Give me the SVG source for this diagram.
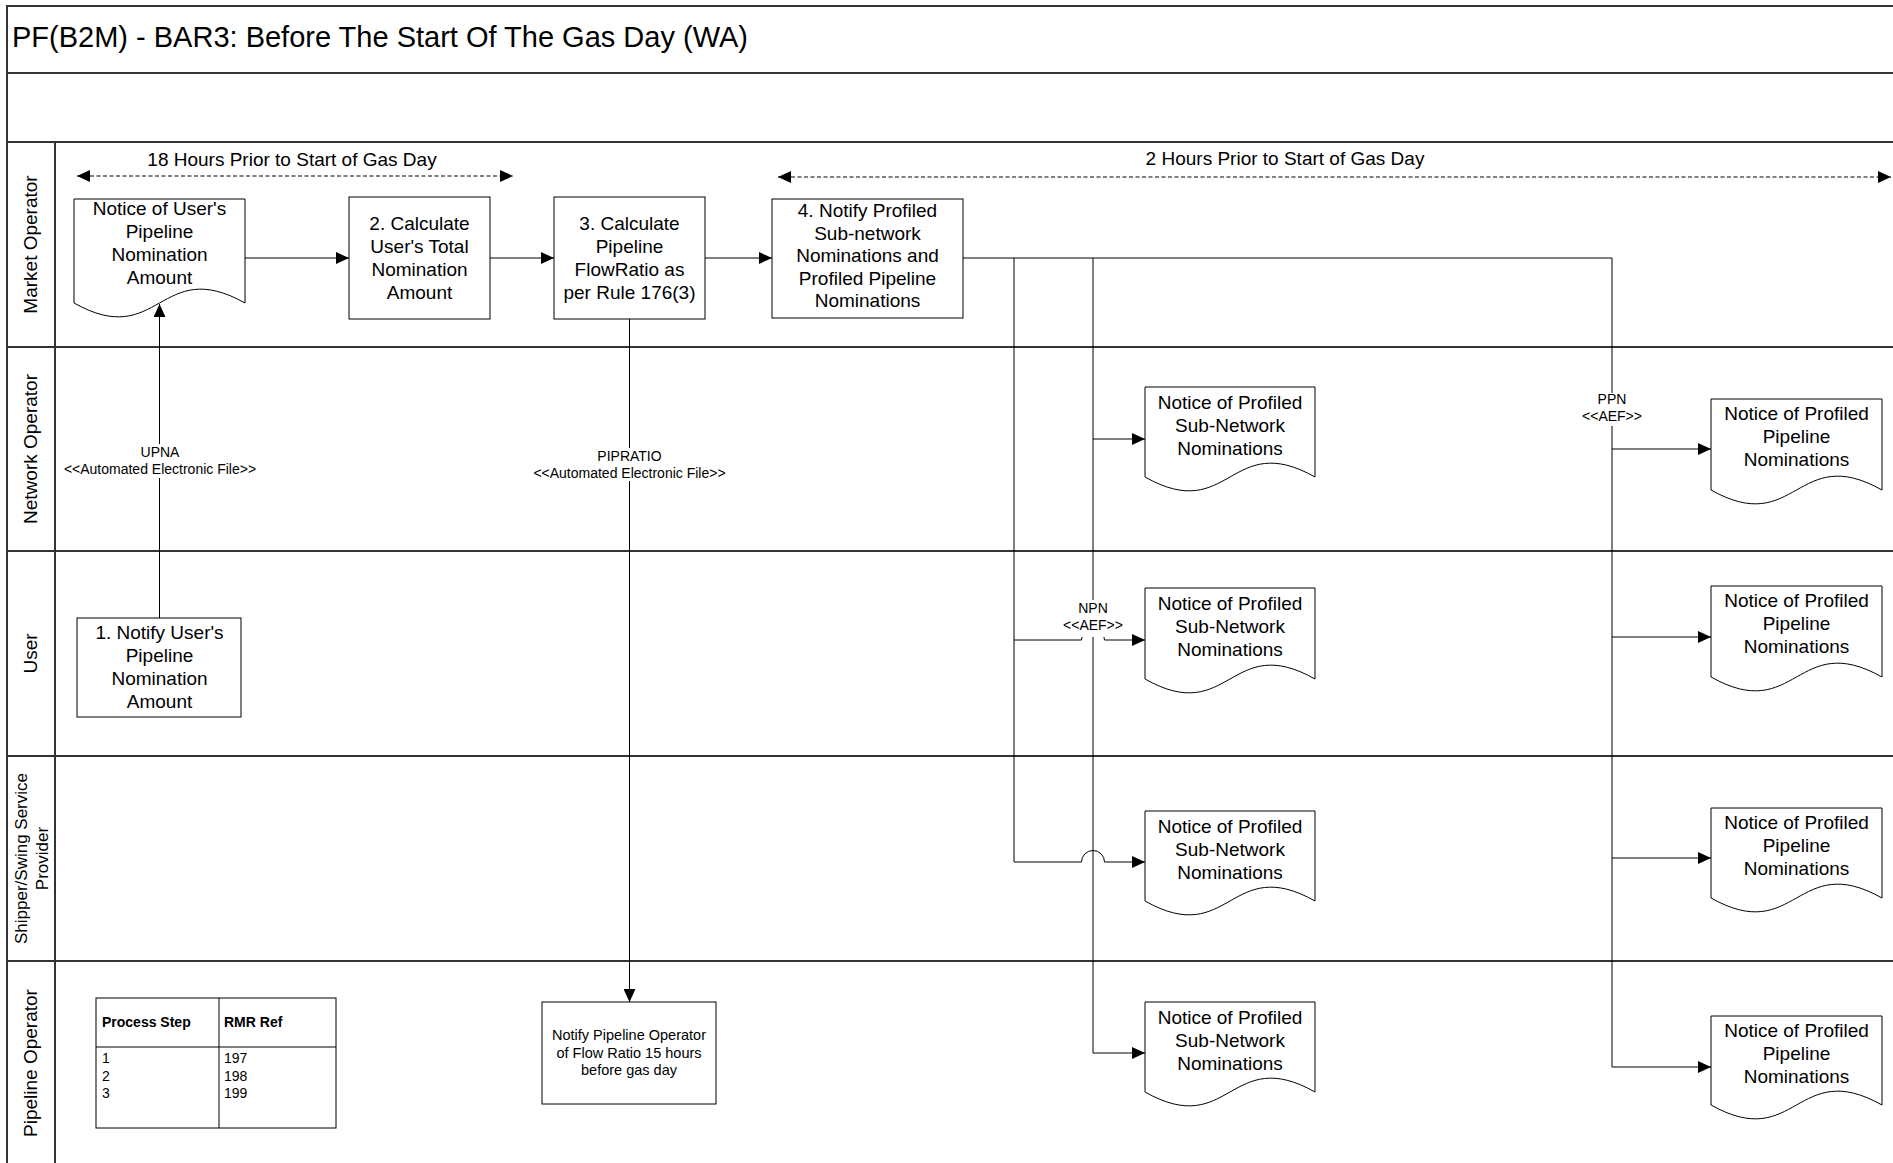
<svg xmlns="http://www.w3.org/2000/svg" width="1893" height="1163" viewBox="0 0 1893 1163">
<defs>
<style>
text{font-family:"Liberation Sans",Arial,sans-serif;fill:#000}
.t19{font-size:19px;text-anchor:middle}
.t14{font-size:14px;text-anchor:middle}
.lane{stroke:#333;stroke-width:2;fill:none}
.shape{fill:#fff;stroke:#000;stroke-width:1}
.conn{fill:none;stroke:#000;stroke-width:1}
.dash{fill:none;stroke:#000;stroke-width:1;stroke-dasharray:4 2.5}
.lbl{fill:#fff;stroke:none}
.tb{font-size:14px}
</style>
<marker id="arr" markerUnits="userSpaceOnUse" markerWidth="13" markerHeight="12" refX="13" refY="6" orient="auto-start-reverse">
<path d="M0,0 L13,6 L0,12 Z" fill="#000"/>
</marker>
</defs>
<rect width="1893" height="1163" fill="#fff"/>

<g id="frame">
<path class="lane" d="M7,1163 V6 H1893"/>
<path class="lane" d="M7,73 H1893 M7,142 H1893 M7,347 H1893 M7,551 H1893 M7,756 H1893 M7,961 H1893 M55,142 V1163"/>
<text x="12" y="47" style="font-size:29px">PF(B2M) - BAR3: Before The Start Of The Gas Day (WA)</text>
</g>

<g id="lanes">
<text class="t19" transform="translate(31,244.5) rotate(-90)" y="6">Market Operator</text>
<text class="t19" transform="translate(31,449) rotate(-90)" y="6">Network Operator</text>
<text class="t19" transform="translate(31,653.5) rotate(-90)" y="6">User</text>
<text class="t19" style="font-size:17px" transform="translate(31,858.5) rotate(-90)"><tspan x="0" y="-4">Shipper/Swing Service</tspan><tspan x="0" y="17">Provider</tspan></text>
<text class="t19" transform="translate(31,1063) rotate(-90)" y="6">Pipeline Operator</text>
</g>

<g id="timeline-18h">
<path class="dash" d="M77,176 H513" marker-start="url(#arr)" marker-end="url(#arr)"/>
<text class="t19" x="292" y="166">18 Hours Prior to Start of Gas Day</text>
</g>
<g id="timeline-2h">
<path class="dash" d="M778,177 H1891" marker-start="url(#arr)" marker-end="url(#arr)"/>
<text class="t19" x="1285" y="165">2 Hours Prior to Start of Gas Day</text>
</g>

<g id="connectors">
<path class="conn" d="M245,258 H349" marker-end="url(#arr)"/>
<path class="conn" d="M490,258 H554" marker-end="url(#arr)"/>
<path class="conn" d="M705,258 H772" marker-end="url(#arr)"/>
<path class="conn" d="M159.5,618 V304" marker-end="url(#arr)"/>
<path class="conn" d="M629.5,319 V1002" marker-end="url(#arr)"/>
<path class="conn" d="M963,258 H1612"/>
<path class="conn" d="M1612,258 V1067 H1711" marker-end="url(#arr)"/>
<path class="conn" d="M1612,449 H1711" marker-end="url(#arr)"/>
<path class="conn" d="M1612,637 H1711" marker-end="url(#arr)"/>
<path class="conn" d="M1612,858 H1711" marker-end="url(#arr)"/>
<path class="conn" d="M1093,258 V1053 H1145" marker-end="url(#arr)"/>
<path class="conn" d="M1093,439 H1145" marker-end="url(#arr)"/>
<path class="conn" d="M1014,258 V862 H1081.5 A11.5,11.5 0 0 1 1104.5,862 H1145" marker-end="url(#arr)"/>
<path class="conn" d="M1014,640 H1081.5 A11.5,11.5 0 0 1 1104.5,640 H1145" marker-end="url(#arr)"/>
<rect class="lbl" x="58" y="444" width="204" height="34"/>
<text class="t14" x="160"><tspan x="160" y="457">UPNA</tspan><tspan x="160" y="474">&lt;&lt;Automated Electronic File&gt;&gt;</tspan></text>
<rect class="lbl" x="527" y="448" width="204" height="33"/>
<text class="t14" x="629.5"><tspan x="629.5" y="461">PIPRATIO</tspan><tspan x="629.5" y="478">&lt;&lt;Automated Electronic File&gt;&gt;</tspan></text>
<rect class="lbl" x="1580" y="393" width="64" height="33"/>
<text class="t14" x="1612"><tspan x="1612" y="404">PPN</tspan><tspan x="1612" y="421">&lt;&lt;AEF&gt;&gt;</tspan></text>
<rect class="lbl" x="1063" y="600" width="61" height="37"/>
<text class="t14" x="1093"><tspan x="1093" y="613">NPN</tspan><tspan x="1093" y="630">&lt;&lt;AEF&gt;&gt;</tspan></text>
</g>

<g id="doc-user-nomination">
<path class="shape" d="M74,199 H245 V303 C159.5,255 159.5,351 74,303 Z"/>
<text class="t19"><tspan x="159.5" y="215">Notice of User's</tspan><tspan x="159.5" y="238">Pipeline</tspan><tspan x="159.5" y="261">Nomination</tspan><tspan x="159.5" y="284">Amount</tspan></text>
</g>
<g id="step2">
<rect class="shape" x="349" y="197" width="141" height="122"/>
<text class="t19"><tspan x="419.5" y="230">2. Calculate</tspan><tspan x="419.5" y="253">User's Total</tspan><tspan x="419.5" y="276">Nomination</tspan><tspan x="419.5" y="299">Amount</tspan></text>
</g>
<g id="step3">
<rect class="shape" x="554" y="197" width="151" height="122"/>
<text class="t19"><tspan x="629.5" y="230">3. Calculate</tspan><tspan x="629.5" y="253">Pipeline</tspan><tspan x="629.5" y="276">FlowRatio as</tspan><tspan x="629.5" y="299">per Rule 176(3)</tspan></text>
</g>
<g id="step4">
<rect class="shape" x="772" y="199" width="191" height="119"/>
<text class="t19"><tspan x="867.5" y="217">4. Notify Profiled</tspan><tspan x="867.5" y="239.5">Sub-network</tspan><tspan x="867.5" y="262">Nominations and</tspan><tspan x="867.5" y="284.5">Profiled Pipeline</tspan><tspan x="867.5" y="307">Nominations</tspan></text>
</g>
<g id="step1">
<rect class="shape" x="77" y="618" width="164" height="99"/>
<text class="t19"><tspan x="159.5" y="639">1. Notify User's</tspan><tspan x="159.5" y="662">Pipeline</tspan><tspan x="159.5" y="685">Nomination</tspan><tspan x="159.5" y="708">Amount</tspan></text>
</g>
<g id="po-notify">
<rect class="shape" x="542" y="1002" width="174" height="102"/>
<text style="font-size:14.5px;text-anchor:middle"><tspan x="629" y="1040">Notify Pipeline Operator</tspan><tspan x="629" y="1057.5">of Flow Ratio 15 hours</tspan><tspan x="629" y="1075">before gas day</tspan></text>
</g>
<g id="rmr-table">
<rect class="shape" x="96" y="998" width="240" height="130"/>
<path class="conn" d="M219,998 V1128 M96,1047 H336"/>
<text class="tb" style="font-weight:bold"><tspan x="102" y="1027">Process Step</tspan><tspan x="224" y="1027">RMR Ref</tspan></text>
<text class="tb"><tspan x="102" y="1063">1</tspan><tspan x="102" y="1080.5">2</tspan><tspan x="102" y="1098">3</tspan></text>
<text class="tb"><tspan x="224" y="1063">197</tspan><tspan x="224" y="1080.5">198</tspan><tspan x="224" y="1098">199</tspan></text>
</g>

<g id="sub-no">
<path class="shape" d="M1145,387 H1315 V477 C1230,429 1230,525 1145,477 Z"/>
<text class="t19"><tspan x="1230" y="409">Notice of Profiled</tspan><tspan x="1230" y="432">Sub-Network</tspan><tspan x="1230" y="455">Nominations</tspan></text>
</g>
<g id="sub-user">
<path class="shape" d="M1145,588 H1315 V679 C1230,631 1230,727 1145,679 Z"/>
<text class="t19"><tspan x="1230" y="610">Notice of Profiled</tspan><tspan x="1230" y="633">Sub-Network</tspan><tspan x="1230" y="656">Nominations</tspan></text>
</g>
<g id="sub-shipper">
<path class="shape" d="M1145,811 H1315 V901 C1230,853 1230,949 1145,901 Z"/>
<text class="t19"><tspan x="1230" y="833">Notice of Profiled</tspan><tspan x="1230" y="856">Sub-Network</tspan><tspan x="1230" y="879">Nominations</tspan></text>
</g>
<g id="sub-po">
<path class="shape" d="M1145,1002 H1315 V1092 C1230,1044 1230,1140 1145,1092 Z"/>
<text class="t19"><tspan x="1230" y="1024">Notice of Profiled</tspan><tspan x="1230" y="1047">Sub-Network</tspan><tspan x="1230" y="1070">Nominations</tspan></text>
</g>
<g id="pipe-no">
<path class="shape" d="M1711,399 H1882 V490 C1796.5,442 1796.5,538 1711,490 Z"/>
<text class="t19"><tspan x="1796.5" y="420">Notice of Profiled</tspan><tspan x="1796.5" y="443">Pipeline</tspan><tspan x="1796.5" y="466">Nominations</tspan></text>
</g>
<g id="pipe-user">
<path class="shape" d="M1711,586 H1882 V677 C1796.5,629 1796.5,725 1711,677 Z"/>
<text class="t19"><tspan x="1796.5" y="607">Notice of Profiled</tspan><tspan x="1796.5" y="630">Pipeline</tspan><tspan x="1796.5" y="653">Nominations</tspan></text>
</g>
<g id="pipe-shipper">
<path class="shape" d="M1711,808 H1882 V898 C1796.5,850 1796.5,946 1711,898 Z"/>
<text class="t19"><tspan x="1796.5" y="829">Notice of Profiled</tspan><tspan x="1796.5" y="852">Pipeline</tspan><tspan x="1796.5" y="875">Nominations</tspan></text>
</g>
<g id="pipe-po">
<path class="shape" d="M1711,1016 H1882 V1105 C1796.5,1057 1796.5,1153 1711,1105 Z"/>
<text class="t19"><tspan x="1796.5" y="1037">Notice of Profiled</tspan><tspan x="1796.5" y="1060">Pipeline</tspan><tspan x="1796.5" y="1083">Nominations</tspan></text>
</g>
</svg>
